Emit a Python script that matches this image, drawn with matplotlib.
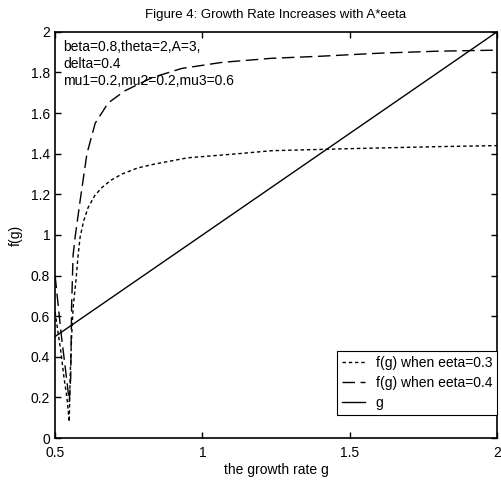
import matplotlib
matplotlib.use('Agg')
import matplotlib.pyplot as plt
import numpy as np

plt.rcParams['font.family'] = ['Liberation Sans', 'DejaVu Sans']

# f(g) for eeta = 0.3
g_03 = [0.5, 0.51, 0.52, 0.53, 0.54, 0.548, 0.551, 0.556, 0.561, 0.571, 0.578,
        0.585, 0.597, 0.612, 0.635, 0.66, 0.69, 0.727, 0.78, 0.84, 0.95,
        1.12, 1.236, 1.5, 1.8, 2.0]
f_03 = [0.62, 0.52, 0.42, 0.3, 0.2, 0.08, 0.3, 0.5, 0.64, 0.78, 0.9,
        0.99, 1.07, 1.135, 1.195, 1.235, 1.27, 1.30, 1.33, 1.35, 1.38,
        1.40, 1.415, 1.425, 1.435, 1.44]

# f(g) for eeta = 0.4
g_04 = [0.5, 0.51, 0.52, 0.53, 0.54, 0.548, 0.553, 0.556, 0.561, 0.568, 0.585,
        0.608, 0.636, 0.68, 0.737, 0.83, 0.93, 1.067, 1.236, 1.4,
        1.6, 1.8, 2.0]
f_04 = [0.8, 0.66, 0.52, 0.4, 0.28, 0.18, 0.3, 0.65, 0.9, 0.99, 1.17,
        1.40, 1.55, 1.65, 1.71, 1.775, 1.82, 1.85, 1.87, 1.88,
        1.895, 1.905, 1.91]

# 45 degree line
g_line = [0.5, 2.0]

xticks = [0.5, 1, 1.5, 2]
yticks = [0, 0.2, 0.4, 0.6, 0.8, 1, 1.2, 1.4, 1.6, 1.8, 2]

fig = plt.figure(figsize=(5.01, 4.83), dpi=100)
ax = fig.add_axes([0.11, 0.093, 0.882, 0.841])

ax.plot(g_03, f_03, color='black', lw=1.0, linestyle=(0, (2.5, 2)),
        label='f(g) when eeta=0.3')
ax.plot(g_04, f_04, color='black', lw=1.0, linestyle=(0, (9, 4)),
        label='f(g) when eeta=0.4')
ax.plot(g_line, g_line, color='black', lw=1.0, label='g')

ax.set_xlim(0.5, 2)
ax.set_ylim(0, 2)
ax.set_xticks(xticks)
ax.set_xticklabels(['0.5', '1', '1.5', '2'])
ax.set_yticks(yticks)
ax.set_yticklabels(['0', '0.2', '0.4', '0.6', '0.8', '1', '1.2', '1.4',
                    '1.6', '1.8', '2'])
ax.tick_params(direction='in', top=True, right=True, labelsize=10,
               length=4, width=1)
ax.tick_params(axis='x', pad=6)
for s in ax.spines.values():
    s.set_linewidth(1.2)

ax.set_title('Figure 4: Growth Rate Increases with A*eeta', fontsize=9.5,
             pad=10)
ax.set_xlabel('the growth rate g', fontsize=10, labelpad=2)
ax.set_ylabel('f(g)', fontsize=10, labelpad=6)

ax.text(0.527, 1.96, 'beta=0.8,theta=2,A=3,\ndelta=0.4\nmu1=0.2,mu2=0.2,mu3=0.6',
        fontsize=10, va='top', ha='left', linespacing=1.25)

leg = ax.legend(loc='lower right', fontsize=10, handlelength=1.6,
                fancybox=False, edgecolor='black', framealpha=1,
                borderpad=0.35, labelspacing=0.45, handletextpad=0.8,
                borderaxespad=0, bbox_to_anchor=(1.0, 0.057))
leg.get_frame().set_linewidth(0.8)

fig.savefig('out.png', dpi=100)
